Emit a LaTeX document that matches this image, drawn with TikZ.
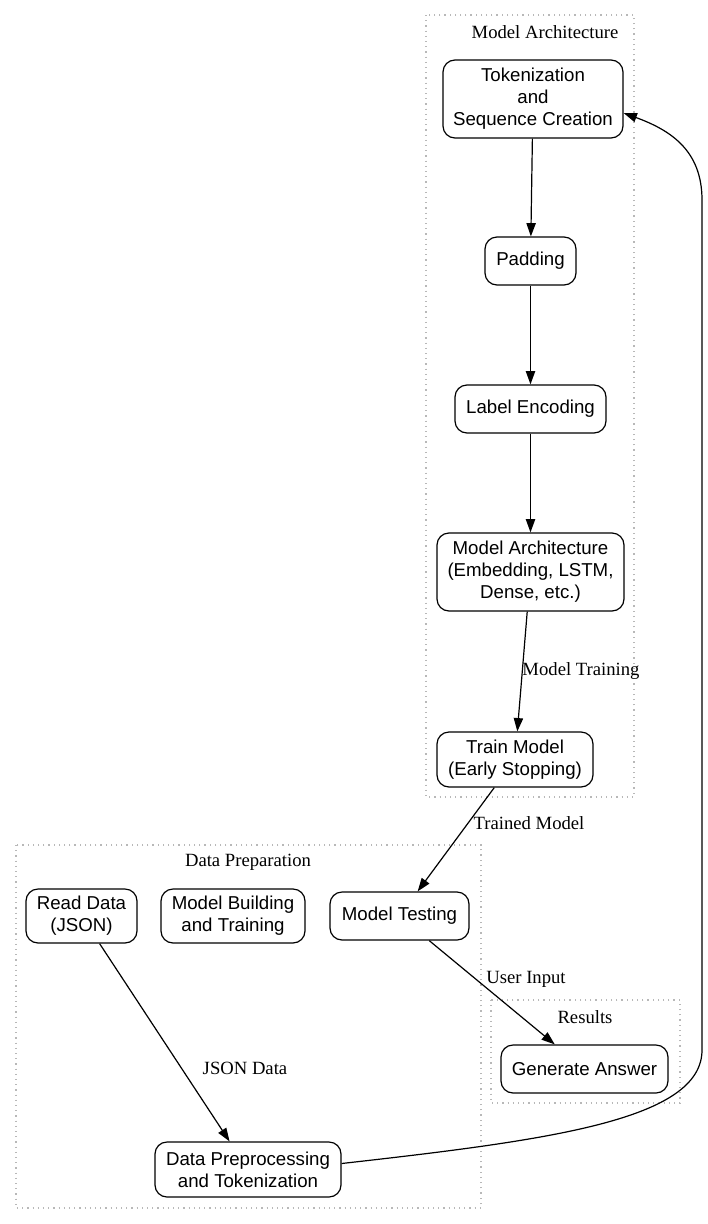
\documentclass[tikz,border=0pt]{standalone}
\usepackage{fontspec}
\setmainfont{Liberation Serif}
\setsansfont{Liberation Sans}
\usetikzlibrary{arrows.meta,calc}
\begin{document}
\begin{tikzpicture}[x=0.75pt,y=-0.75pt,
  box/.style={draw=black,line width=0.9pt,rounded corners=9pt,align=center,inner sep=0pt,
    font=\sffamily\fontsize{14}{16.5}\selectfont},
  arr/.style={draw=black,line width=0.9pt,-{Triangle[length=10pt,width=7pt]}},
  lbl/.style={font=\rmfamily\fontsize{14}{16.5}\selectfont,inner sep=0pt},
  cluster/.style={draw=black!28,line width=0.8pt,dash pattern=on 0.9pt off 3pt}]
\useasboundingbox (0,0) rectangle (707,1224);
\fill[white] (0,0) rectangle (707,1224);
% clusters
\draw[cluster] (426,15) rectangle (634,797);
\draw[cluster] (16,845) rectangle (481,1208);
\draw[cluster] (491,1000) rectangle (680,1103);
\node[lbl] (tma) at (545,32) {Model Architecture};
\node[lbl] (tdp) at (248,862) {Data Preparation};
\node[lbl] (tres) at (585,1017) {Results};
% nodes
\node[box,minimum width=135pt,minimum height=58.5pt] (tok) at (533,99) {Tokenization\\and\\Sequence Creation};
\node[box,minimum width=68.25pt,minimum height=36pt] (pad) at (530.5,261) {Padding};
\node[box,minimum width=113.25pt,minimum height=36pt] (lab) at (530.5,409) {Label Encoding};
\node[box,minimum width=140.25pt,minimum height=58.5pt] (arch) at (530.5,572) {Model Architecture\\(Embedding, LSTM,\\Dense, etc.)};
\node[box,minimum width=117pt,minimum height=41.25pt] (train) at (515,759.5) {Train Model\\(Early Stopping)};
\node[box,minimum width=104.25pt,minimum height=36pt] (test) at (399.5,916) {Model Testing};
\node[box,minimum width=83.25pt,minimum height=40.5pt] (read) at (81.5,916) {Read Data\\(JSON)};
\node[box,minimum width=108pt,minimum height=40.5pt] (build) at (233,916) {Model Building\\and Training};
\node[box,minimum width=125.25pt,minimum height=36pt] (gen) at (584.5,1069) {Generate Answer};
\node[box,minimum width=139.5pt,minimum height=41.25pt] (prep) at (248,1169.5) {Data Preprocessing\\and Tokenization};
% edges
\draw[arr] (tok) -- (pad);
\draw[arr] (pad) -- (lab);
\draw[arr] (lab) -- (arch);
\draw[arr] (arch) -- (train);
\node[lbl] (lmt) at (581,671) {Model Training};
\draw[arr] (train) -- (test);
\node[lbl] (ltm) at (529,823) {Trained Model};
\draw[arr] (read) -- (prep);
\node[lbl] (ljd) at (245,1068) {JSON Data};
\draw[arr] (test) -- (gen);
\node[lbl] (lui) at (526,979) {User Input};
\coordinate (cs) at ($(prep.east)+(0,-6)$);
\coordinate (ce) at ($(tok.east)+(0,14)$);
\draw[arr] (cs) .. controls (550,1140) and (702,1120) .. (702,1050) -- (702,200) .. controls (702,150) and (670,130) .. (ce);
\end{tikzpicture}
\end{document}
